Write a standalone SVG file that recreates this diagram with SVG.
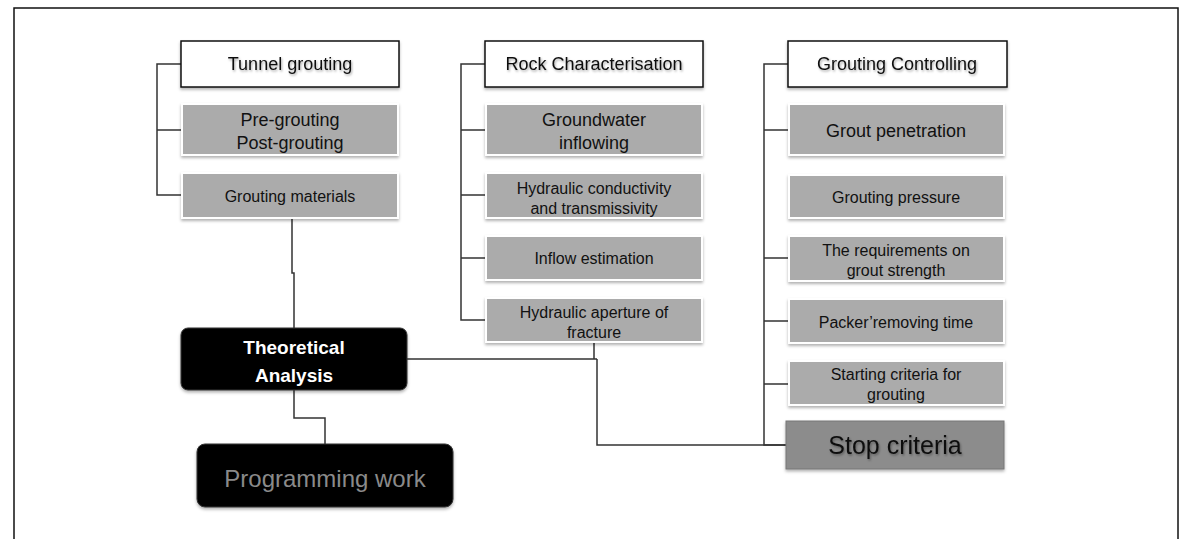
<svg xmlns="http://www.w3.org/2000/svg" width="1183" height="539" viewBox="0 0 1183 539">
<style>
.hdr{fill:#fff;stroke:#111;stroke-width:1.5}
.sub{fill:#ababab;stroke:#fff;stroke-width:2}
.t{font-family:"Liberation Sans",Arial,sans-serif;fill:#111;text-anchor:middle}
.h{font-size:18px}
.s{font-size:16px}
.c{fill:none;stroke:#333;stroke-width:1.5}
</style>
<defs>
<filter id="sh" x="-10%" y="-20%" width="120%" height="150%">
<feDropShadow dx="0" dy="2" stdDeviation="1.5" flood-color="#000" flood-opacity="0.3"/>
</filter>
<filter id="ts" x="-10%" y="-30%" width="120%" height="160%">
<feDropShadow dx="1" dy="1.5" stdDeviation="1.2" flood-color="#000" flood-opacity="0.35"/>
</filter>
</defs>
<rect x="14" y="8" width="1164" height="545" fill="#fff" stroke="#111" stroke-width="1.5"/>

<g id="connectors">
<path class="c" d="M181,64 H157 V195 H183 M157,130 H183"/>
<path class="c" d="M292,217 V273 H294 V328"/>
<path class="c" d="M294,390 V418 H325 V444"/>
<path class="c" d="M485,64 H461 V320 H487 M461,130 H487 M461,195 H487 M461,258 H487"/>
<path class="c" d="M407,359 H597 M594,341 V359 M597,359 V445 H786"/>
<path class="c" d="M788,64 H764 V445 H786 M764,130 H790 M764,258 H790 M764,321 H790 M764,384 H790"/>
</g>

<g id="tunnel-grouting">
<rect class="hdr" x="181" y="41" width="218" height="46" filter="url(#sh)"/>
<text class="t h" x="290" y="70" filter="url(#ts)">Tunnel grouting</text>
</g>
<g id="pre-post-grouting">
<rect class="sub" x="182" y="104" width="216" height="51" filter="url(#sh)"/>
<text class="t h" x="290" y="126">Pre-grouting</text>
<text class="t h" x="290" y="149">Post-grouting</text>
</g>
<g id="grouting-materials">
<rect class="sub" x="182" y="173" width="216" height="45" filter="url(#sh)"/>
<text class="t s" x="290" y="202">Grouting materials</text>
</g>

<g id="rock-characterisation">
<rect class="hdr" x="485" y="41" width="218" height="46" filter="url(#sh)"/>
<text class="t h" x="594" y="70" filter="url(#ts)">Rock Characterisation</text>
</g>
<g id="groundwater-inflowing">
<rect class="sub" x="486" y="104" width="216" height="51" filter="url(#sh)"/>
<text class="t h" x="594" y="126">Groundwater</text>
<text class="t h" x="594" y="149">inflowing</text>
</g>
<g id="hydraulic-conductivity">
<rect class="sub" x="486" y="173" width="216" height="45" filter="url(#sh)"/>
<text class="t s" x="594" y="194">Hydraulic conductivity</text>
<text class="t s" x="594" y="214">and transmissivity</text>
</g>
<g id="inflow-estimation">
<rect class="sub" x="486" y="236" width="216" height="44" filter="url(#sh)"/>
<text class="t s" x="594" y="264">Inflow estimation</text>
</g>
<g id="hydraulic-aperture">
<rect class="sub" x="486" y="298" width="216" height="44" filter="url(#sh)"/>
<text class="t s" x="594" y="318">Hydraulic aperture of</text>
<text class="t s" x="594" y="338">fracture</text>
</g>

<g id="grouting-controlling">
<rect class="hdr" x="788" y="41" width="219" height="46" filter="url(#sh)"/>
<text class="t h" x="897" y="70" filter="url(#ts)">Grouting Controlling</text>
</g>
<g id="grout-penetration">
<rect class="sub" x="789" y="104" width="215" height="51" filter="url(#sh)"/>
<text class="t h" x="896" y="137">Grout penetration</text>
</g>
<g id="grouting-pressure">
<rect class="sub" x="789" y="175" width="215" height="43" filter="url(#sh)"/>
<text class="t s" x="896" y="203">Grouting pressure</text>
</g>
<g id="requirements-grout-strength">
<rect class="sub" x="789" y="236" width="215" height="45" filter="url(#sh)"/>
<text class="t s" x="896" y="256">The requirements on</text>
<text class="t s" x="896" y="276">grout strength</text>
</g>
<g id="packer-removing-time">
<rect class="sub" x="789" y="299" width="215" height="44" filter="url(#sh)"/>
<text class="t s" x="896" y="328">Packer’removing time</text>
</g>
<g id="starting-criteria">
<rect class="sub" x="789" y="361" width="215" height="44" filter="url(#sh)"/>
<text class="t s" x="896" y="380">Starting criteria for</text>
<text class="t s" x="896" y="400">grouting</text>
</g>
<g id="stop-criteria">
<rect x="786" y="421" width="218" height="48" fill="#8c8c8c" stroke="#777" stroke-width="1" filter="url(#sh)"/>
<text class="t" x="895" y="454" font-size="25" filter="url(#ts)">Stop criteria</text>
</g>

<g id="theoretical-analysis">
<rect x="181" y="328" width="226" height="62" rx="7" fill="#050505" stroke="#333" stroke-width="1" filter="url(#sh)"/>
<text class="t" x="294" y="354" font-size="19" font-weight="bold" fill="#fff" style="fill:#fff">Theoretical</text>
<text class="t" x="294" y="382" font-size="19" font-weight="bold" style="fill:#fff">Analysis</text>
</g>
<g id="programming-work">
<rect x="197" y="444" width="256" height="63" rx="8" fill="#050505" stroke="#333" stroke-width="1" filter="url(#sh)"/>
<text class="t" x="325" y="487" font-size="24" style="fill:#8a8a8a">Programming work</text>
</g>
</svg>
